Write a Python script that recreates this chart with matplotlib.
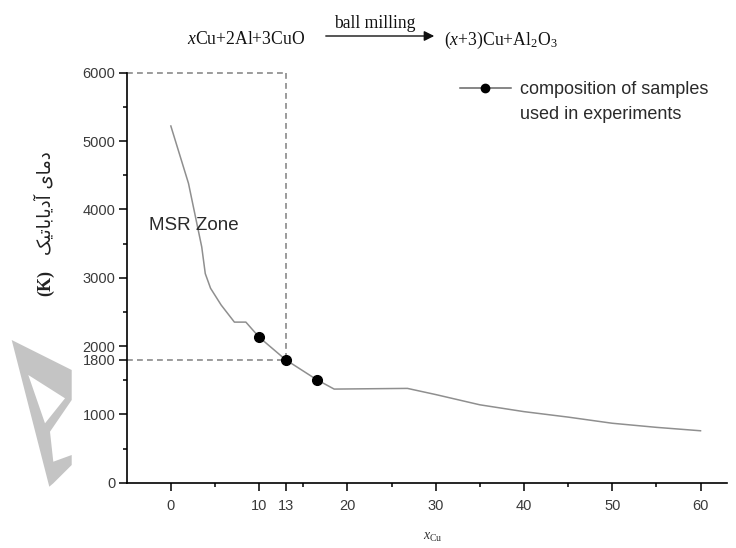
import matplotlib
matplotlib.use("Agg")
import matplotlib.pyplot as plt
from matplotlib.lines import Line2D
from matplotlib.patches import Polygon, FancyArrowPatch
from matplotlib.ticker import FixedLocator

# ---- data ----
x_cu = [0, 2, 3.5, 3.9, 4.5, 5.7, 7.2, 8.5, 10, 13, 16.5, 18.5, 26.8, 30, 35, 40, 45, 50, 55, 60]
t_ad = [5220, 4380, 3450, 3060, 2845, 2600, 2350, 2350, 2130, 1800, 1510, 1370, 1380, 1290,
        1140, 1040, 960, 870, 810, 760]
sample_x = [10, 13, 16.5]
sample_t = [2130, 1800, 1510]
msr_x = 13
msr_t = 1800
t_top = 6000
xticks = [0, 10, 13, 20, 30, 40, 50, 60]
yticks = [0, 1000, 1800, 2000, 3000, 4000, 5000, 6000]
legend_lines = ["composition of samples", "used in experiments"]
zone_label = "MSR Zone"

plt.rcParams['mathtext.fontset'] = 'custom'
plt.rcParams['mathtext.rm'] = 'Liberation Serif'
plt.rcParams['mathtext.it'] = 'Liberation Serif:italic'

W, H = 736, 548
fig = plt.figure(figsize=(W / 100, H / 100), dpi=100)
fig.patch.set_facecolor('white')

def fx(px):
    return px / W

def fy(py):
    return 1 - py / H

left, right, top, bottom = 126.7, 727, 72.7, 482.7
ax = fig.add_axes([fx(left), fy(bottom), (right - left) / W, (bottom - top) / H])
ax.set_xlim(-5, 63)
ax.set_ylim(0, 6000)

for s in ['top', 'right']:
    ax.spines[s].set_visible(False)
for s in ['left', 'bottom']:
    ax.spines[s].set_linewidth(1.2)
    ax.spines[s].set_color('black')

# guide dashed lines
dash = (0, (3.5, 2.5))
ax.plot([-5, msr_x], [t_top, t_top], ls=dash, color='#8a8a8a', lw=1.2, clip_on=False)
ax.plot([msr_x, msr_x], [t_top, msr_t], ls=dash, color='#8a8a8a', lw=1.2, clip_on=False)
ax.plot([-5, msr_x], [msr_t, msr_t], ls=dash, color='#8a8a8a', lw=1.2, clip_on=False)

# curve
ax.plot(x_cu, t_ad, color='#8f8f8f', lw=1.1, zorder=3)
ax.plot(sample_x, sample_t, ls='none', marker='o', ms=7, color='black', zorder=4)

# ticks
ax.xaxis.set_major_locator(FixedLocator(xticks))
ax.xaxis.set_minor_locator(FixedLocator([5, 15, 25, 35, 45, 55]))
ax.yaxis.set_major_locator(FixedLocator(yticks))
ax.yaxis.set_minor_locator(FixedLocator([500, 1500, 2500, 3500, 4500, 5500]))
ax.set_xticklabels([str(v) for v in xticks])
ax.set_yticklabels([str(v) for v in yticks])
ax.tick_params(axis='both', which='major', direction='out', length=6, width=1.1,
               labelsize=10.5, labelcolor='#3a3a3a', color='black')
ax.tick_params(axis='both', which='minor', direction='out', length=3, width=1.1, color='black')
ax.tick_params(axis='x', which='major', pad=6)
ax.tick_params(axis='y', which='major', pad=2)
for lab in ax.get_xticklabels() + ax.get_yticklabels():
    lab.set_family('Liberation Sans')

# MSR zone text
ax.text(-2.5, 3757, zone_label, fontsize=13.5, family='Liberation Sans',
        color='#2a2a2a', va='center', ha='left')

# legend (two rows: handle on first row only)
proxy = Line2D([0], [0], color='#666666', lw=1.1, marker='o', ms=6, mfc='black', mec='black')
blank = Line2D([0], [0], color='none', lw=0)
leg = ax.legend([proxy, blank], legend_lines, loc='upper left', frameon=False,
                bbox_to_anchor=(fx(460), fy(81)), bbox_transform=fig.transFigure,
                borderpad=0, borderaxespad=0, handlelength=2.8, handletextpad=0.5,
                labelspacing=0.42, prop={'family': 'Liberation Sans', 'size': 13})
for t in leg.get_texts():
    t.set_color('#2a2a2a')

# x label
ax.set_xlabel(r'$x_{\mathrm{Cu}}$', fontsize=10, color='#333333')
ax.xaxis.set_label_coords(0.51, -0.115)

# y label (Persian, pre-shaped in visual order) + (K)
word2 = '\uFB8F\uFEF4\uFE97\uFE8E\uFE91\uFE8E\uFEF3\uFEA9\uFE81'   # آدیاباتیک
word1 = '\uFEEF\uFE8E\uFEE3\uFEA9'                               # دمای
fig.text(fx(45), fy(203), word2 + ' ' + word1, rotation=90, ha='center', va='center',
         fontsize=13, family=['DejaVu Sans'], color='#222222')
fig.text(fx(46), fy(283), '(K)', rotation=90, ha='center', va='center',
         fontsize=13, family='Liberation Serif', weight='bold', color='#222222')

# reaction equation on top
fs = 12.7
fig.text(fx(305), fy(40), r'$x$Cu+2Al+3CuO', ha='right', va='center', fontsize=fs,
         family='Liberation Serif', color='#111111')
fig.text(fx(375), fy(23), 'ball milling', ha='center', va='center', fontsize=fs,
         family='Liberation Serif', color='#111111')
fig.add_artist(FancyArrowPatch((fx(323), fy(36)), (fx(437), fy(36)),
               transform=fig.transFigure, arrowstyle='-|>,head_length=4,head_width=2',
               color='#111111', lw=1.0, mutation_scale=1.5))
fig.text(fx(444), fy(40), r'($x$+3)Cu+Al$_2$O$_3$', ha='left', va='center', fontsize=fs,
         family='Liberation Serif', color='#111111')

# watermark shape
outer = [(11.7, 340), (71.7, 370), (71.7, 400), (50, 431.7), (53.3, 461.7), (71.7, 455),
         (71.7, 465), (53.3, 483.3), (49.3, 486.7)]
inner = [(28.3, 375), (65, 398.3), (45, 423.3)]
fig.add_artist(Polygon([(fx(a), fy(b)) for a, b in outer], closed=True,
                       transform=fig.transFigure, facecolor='#c4c4c4', edgecolor='none'))
fig.add_artist(Polygon([(fx(a), fy(b)) for a, b in inner], closed=True,
                       transform=fig.transFigure, facecolor='white', edgecolor='none'))

fig.savefig('out.png', dpi=100)
